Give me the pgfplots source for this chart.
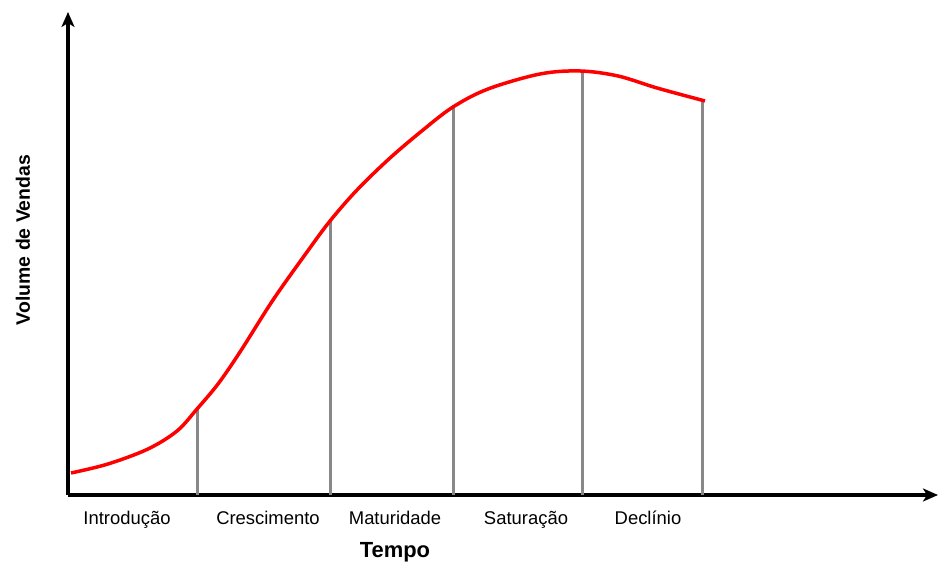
\documentclass[border=0pt]{standalone}
\usepackage{pgfplots}
\pgfplotsset{compat=1.18}
\usepackage{fontspec}
\setmainfont{Liberation Sans}
\usetikzlibrary{arrows.meta}
\definecolor{curvered}{RGB}{255,0,0}
\definecolor{linegray}{RGB}{136,136,136}
\begin{document}
\begin{tikzpicture}[x=1bp,y=1bp]
\useasboundingbox (-68,-69) rectangle (870,495);
\begin{axis}[
  at={(0,0)}, anchor=origin,
  scale only axis, width=870bp, height=483bp,
  xmin=0, xmax=870, ymin=0, ymax=483,
  axis lines=left,
  axis line style={line width=3.5bp, -{Stealth[length=15bp,width=13bp,inset=4bp]}},
  xtick={59,200,327,458,580},
  xticklabels={Introdução,Crescimento,Maturidade,Saturação,Declínio},
  typeset ticklabels with strut,
  xticklabel style={font=\fontsize{18.5}{21}\selectfont, yshift=-11bp},
  major tick length=0pt,
  ytick=\empty,
  clip=false,
]
\addplot[ycomb, linegray, line width=3bp, no markers] coordinates {
  (129,87) (262,275) (385,390) (514,424) (634,395)
};
\addplot[curvered, line width=3.5bp, smooth, tension=0.55, no markers] coordinates {
  (3,22) (40,31) (80,46) (109,64) (129,86) (150,111) (172,143) (205,195)
  (239,243) (262,274) (289,305) (322,337) (355,365) (385,388) (420,406)
  (472,421) (512,424) (550,419) (589,407) (637,394)
};
\node[font=\bfseries\fontsize{22}{26}\selectfont] at (axis cs:327,-57) {Tempo};
\node[font=\bfseries\fontsize{19.5}{22}\selectfont, rotate=90] at (axis cs:-45,255) {Volume de Vendas};
\end{axis}
\end{tikzpicture}
\end{document}
